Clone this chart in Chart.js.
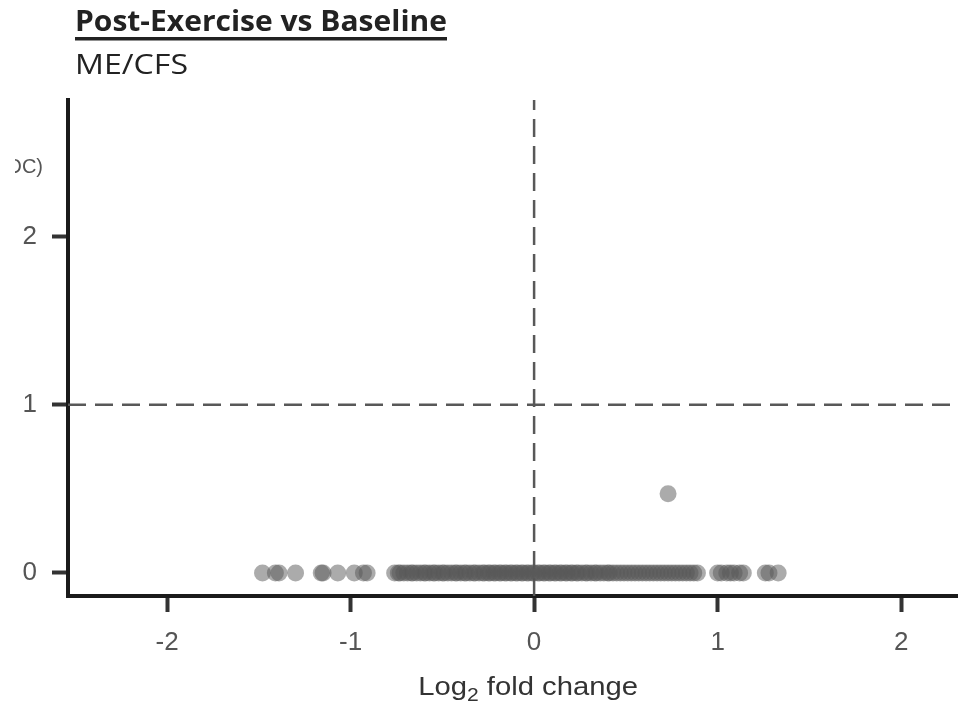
<!DOCTYPE html>
<html>
<head>
<meta charset="utf-8">
<script src="https://cdn.jsdelivr.net/npm/chart.js@4.4.1/dist/chart.umd.min.js"></script>
<style>
  html, body { margin:0; padding:0; background:#fff; }
  canvas { display:block; }
</style>
</head>
<body>
<canvas id="chart" width="958" height="703"></canvas>
<script>
const TITLE = 'Post-Exercise vs Baseline';
const SUBTITLE = 'ME/CFS';
const Y_TITLE = '(POC)';          // only the tail of it is visible, the rest is cut off
const X_TITLE = ['Log', '2', ' fold change'];
const X_TICKS = [-2, -1, 0, 1, 2];
const Y_TICKS = [0, 1, 2];
const X_THRESH = 0;
const Y_THRESH = 1;

// log2 fold change per gene (10 per row)
const logFC = [
  -1.48, -1.41, -1.39, -1.30, -1.16, -1.15, -1.07, -0.98, -0.93, -0.91,
  -0.76, -0.74, -0.73, -0.71, -0.69, -0.67, -0.66, -0.64, -0.62, -0.60,
  -0.59, -0.57, -0.55, -0.54, -0.52, -0.50, -0.49, -0.47, -0.45, -0.43,
  -0.42, -0.40, -0.38, -0.37, -0.35, -0.33, -0.32, -0.30, -0.28, -0.27,
  -0.25, -0.24, -0.22, -0.21, -0.19, -0.18, -0.16, -0.15, -0.13, -0.12,
  -0.10, -0.09, -0.07, -0.06, -0.04, -0.03, -0.01, 0.00, 0.02, 0.03,
  0.05, 0.06, 0.08, 0.09, 0.11, 0.12, 0.14, 0.15, 0.17, 0.18,
  0.20, 0.21, 0.23, 0.24, 0.26, 0.28, 0.29, 0.31, 0.33, 0.34,
  0.36, 0.38, 0.40, 0.41, 0.43, 0.45, 0.47, 0.49, 0.51, 0.53,
  0.55, 0.57, 0.59, 0.61, 0.63, 0.65, 0.67, 0.69, 0.71, 0.73,
  0.75, 0.77, 0.79, 0.81, 0.83, 0.85, 0.87, 0.89, 1.00, 1.02,
  1.05, 1.07, 1.09, 1.12, 1.14, 1.26, 1.28, 1.33, 0.73
];
// -log10 of the adjusted p value, same order (10 per row)
const negLogP = [
  0, 0, 0, 0, 0, 0, 0, 0, 0, 0,
  0, 0, 0, 0, 0, 0, 0, 0, 0, 0,
  0, 0, 0, 0, 0, 0, 0, 0, 0, 0,
  0, 0, 0, 0, 0, 0, 0, 0, 0, 0,
  0, 0, 0, 0, 0, 0, 0, 0, 0, 0,
  0, 0, 0, 0, 0, 0, 0, 0, 0, 0,
  0, 0, 0, 0, 0, 0, 0, 0, 0, 0,
  0, 0, 0, 0, 0, 0, 0, 0, 0, 0,
  0, 0, 0, 0, 0, 0, 0, 0, 0, 0,
  0, 0, 0, 0, 0, 0, 0, 0, 0, 0,
  0, 0, 0, 0, 0, 0, 0, 0, 0, 0,
  0, 0, 0, 0, 0, 0, 0, 0, 0.47
];

const X_MIN = -2.54, X_MAX = 2.31, Y_MIN = -0.137, Y_MAX = 2.81;

const points = logFC.map((x, i) => ({ x, y: negLogP[i] }));
const dashStyle = { borderColor:'#585858', borderWidth:2.5, borderDash:[18,9], pointRadius:0, showLine:true, fill:false };

// draws text a bit wider than the font, like the reference
function wideText(ctx, txt, x, y, w){
  const nat = ctx.measureText(txt).width;
  ctx.save(); ctx.translate(x, y); ctx.scale(w / nat, 1); ctx.fillText(txt, 0, 0); ctx.restore();
}

const textPlugin = {
  id:'texts',
  afterDraw(chart){
    const ctx = chart.ctx;
    ctx.save();
    ctx.textBaseline = 'alphabetic'; ctx.textAlign = 'left';
    // title + underline
    ctx.fillStyle = '#222';
    ctx.font = 'bold 29px "Open Sans", sans-serif';
    wideText(ctx, TITLE, 75, 31, 372);
    ctx.fillRect(75, 37, 372, 3.5);
    // subtitle
    ctx.font = '28px "Open Sans", sans-serif';
    wideText(ctx, SUBTITLE, 75, 74, 113);
    // cropped y title
    ctx.save();
    ctx.beginPath(); ctx.rect(15, 140, 40, 50); ctx.clip();
    ctx.fillStyle = '#555';
    ctx.font = '20px "Liberation Sans", Arial, sans-serif';
    ctx.textAlign = 'right';
    ctx.fillText(Y_TITLE, 43, 173);
    ctx.restore();
    // x title with subscript
    ctx.fillStyle = '#333';
    const big = '25px "Liberation Sans", Arial, sans-serif', small = '18px "Liberation Sans", Arial, sans-serif';
    const sx = 1.17;
    ctx.font = big; const w1 = ctx.measureText(X_TITLE[0]).width, w3 = ctx.measureText(X_TITLE[2]).width;
    ctx.font = small; const w2 = ctx.measureText(X_TITLE[1]).width;
    const total = (w1 + w2 + w3) * sx;
    const cx = chart.scales.x.getPixelForValue(0) - 6;
    ctx.translate(cx - total / 2, 695); ctx.scale(sx, 1);
    ctx.font = big; ctx.fillText(X_TITLE[0], 0, 0);
    ctx.font = small; ctx.fillText(X_TITLE[1], w1, 6);
    ctx.font = big; ctx.fillText(X_TITLE[2], w1 + w2, 0);
    ctx.restore();
  }
};

new Chart(document.getElementById('chart'), {
  type: 'scatter',
  data: {
    datasets: [
      { ...dashStyle, data:[{x:X_THRESH, y:Y_MIN}, {x:X_THRESH, y:Y_MAX}], order:2 },
      { ...dashStyle, data:[{x:X_MIN, y:Y_THRESH}, {x:X_MAX, y:Y_THRESH}], order:2 },
      { data: points, pointRadius:8.5, pointHoverRadius:8.5, backgroundColor:'rgba(88,88,88,0.5)', borderWidth:0, order:1 }
    ]
  },
  options: {
    responsive:false, animation:false,
    layout:{ autoPadding:false, padding:{ top:100, right:0, left:0, bottom:0 } },
    plugins:{ legend:{display:false}, tooltip:{enabled:false} },
    scales:{
      x:{
        type:'linear', min:X_MIN, max:X_MAX,
        afterBuildTicks: s => { s.ticks = X_TICKS.map(v => ({value:v})); },
        afterFit: s => { s.height = 107; s.paddingLeft = 0; s.paddingRight = 0; },
        grid:{ drawOnChartArea:false, tickLength:16, tickWidth:4, tickColor:'#333' },
        border:{ color:'#1a1a1a', width:4 },
        ticks:{ color:'#555', font:{ family:'Liberation Sans', size:26 }, padding:15 }
      },
      y:{
        type:'linear', min:Y_MIN, max:Y_MAX,
        afterBuildTicks: s => { s.ticks = Y_TICKS.map(v => ({value:v})); },
        afterFit: s => { s.width = 68; },
        grid:{ drawOnChartArea:false, tickLength:16, tickWidth:4, tickColor:'#333' },
        border:{ color:'#1a1a1a', width:4 },
        ticks:{ color:'#555', font:{ family:'Liberation Sans', size:26 }, padding:15 }
      }
    }
  },
  plugins:[textPlugin]
});
</script>
</body>
</html>
